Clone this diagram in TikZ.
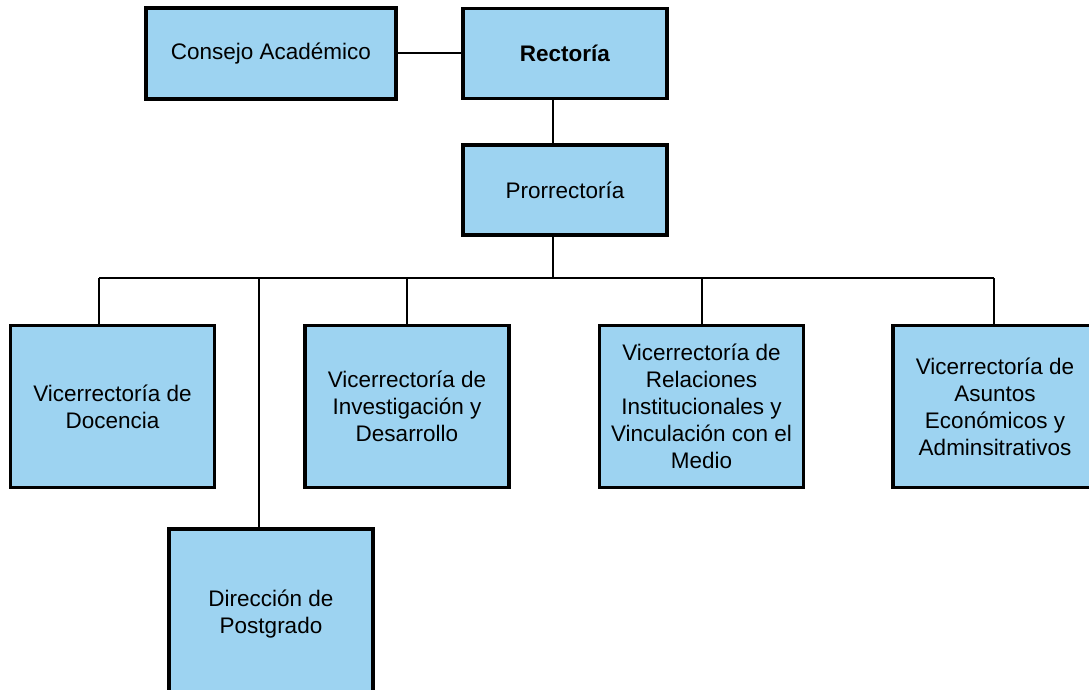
\documentclass[tikz,border=0pt]{standalone}
\usepackage{fontspec}
\setmainfont{Liberation Sans}
\definecolor{boxblue}{HTML}{9DD3F1}
\begin{document}
\begin{tikzpicture}[x=1pt,y=-1pt,
  unit/.style={draw=black, line width=3.2pt, fill=boxblue, align=center, inner sep=0pt,
    font=\fontsize{22.5}{27}\selectfont},
  wide/.style={unit, minimum width=250pt, minimum height=91pt},
  mid/.style={unit, minimum width=204pt, minimum height=90pt},
  tall/.style={unit, minimum width=204pt, minimum height=162pt},
  link/.style={draw=black, line width=2pt}]
\useasboundingbox (0,0) rectangle (1089,690);
\clip (0,0) rectangle (1089,690);
\coordinate (bar) at (553,278);
\coordinate (barL) at (99,278);
\coordinate (barR) at (994,278);
\coordinate (barP) at (259,278);
\node[wide] (consejo) at (271,53.5) {Consejo Académico};
\node[mid] (rectoria) at (565,53.5) {\textbf{Rectoría}};
\node[mid] (pro) at (565,190) {Prorrectoría};
\node[tall] (doc) at (112.5,406.5) {Vicerrectoría de\\Docencia};
\node[tall] (inv) at (407,406.5) {Vicerrectoría de\\Investigación y\\Desarrollo};
\node[tall] (rel) at (701.5,406.5) {Vicerrectoría de\\Relaciones\\Institucionales y\\Vinculación con el\\Medio};
\node[tall] (asu) at (995,406.5) {Vicerrectoría de\\Asuntos\\Económicos y\\Adminsitrativos};
\node[tall, minimum height=170pt] (post) at (271,614) {Dirección de\\Postgrado};
\draw[link] (consejo.east) -- (rectoria.west);
\draw[link] (rectoria.south -| bar) -- (pro.north -| bar);
\draw[link] (pro.south -| bar) -- (bar);
\draw[link] (barL) -- (barR);
\draw[link] (barL) -- (doc.north -| barL);
\draw[link] (barP) -- (post.north -| barP);
\draw[link] (inv.north |- bar) -- (inv.north);
\draw[link] (rel.north |- bar) -- (rel.north);
\draw[link] (barR) -- (asu.north -| barR);
\end{tikzpicture}
\end{document}
